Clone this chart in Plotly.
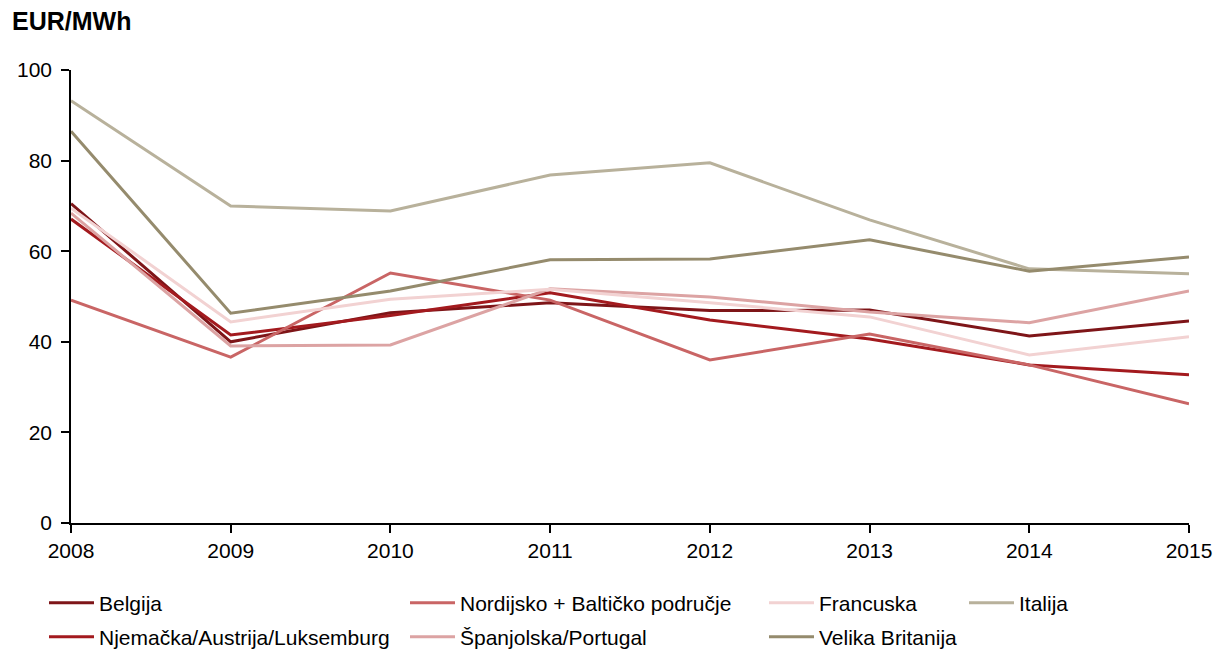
import plotly.graph_objects as go

years = [2008, 2009, 2010, 2011, 2012, 2013, 2014, 2015]

belgija = [70.5, 40.0, 46.4, 48.6, 46.9, 47.0, 41.3, 44.6]
njemacka = [67.1, 41.5, 45.8, 50.8, 44.8, 40.6, 34.9, 32.7]
nordijsko = [49.2, 36.6, 55.2, 49.2, 36.0, 41.7, 34.9, 26.3]
spanjolska = [68.4, 39.1, 39.3, 51.7, 49.9, 46.6, 44.2, 51.2]
francuska = [69.5, 44.4, 49.4, 51.6, 48.6, 45.5, 37.1, 41.1]
italija = [93.2, 70.0, 68.9, 76.8, 79.5, 66.9, 56.1, 55.0]
velika_britanija = [86.5, 46.3, 51.2, 58.1, 58.3, 62.5, 55.6, 58.7]

series = [
    ("Belgija", belgija, "#7e1518"),
    ("Njemačka/Austrija/Luksemburg", njemacka, "#a31a1e"),
    ("Nordijsko + Baltičko područje", nordijsko, "#c96565"),
    ("Španjolska/Portugal", spanjolska, "#dca3a3"),
    ("Francuska", francuska, "#f2d2d2"),
    ("Italija", italija, "#b8b19b"),
    ("Velika Britanija", velika_britanija, "#958b6d"),
]

# legend slot per series: (legend id, symbol left px, row centre px)
legend_slots = {
    "Belgija": ("legend", 50, 603),
    "Njemačka/Austrija/Luksemburg": ("legend2", 50, 637),
    "Nordijsko + Baltičko područje": ("legend3", 411, 603),
    "Španjolska/Portugal": ("legend4", 411, 637),
    "Francuska": ("legend5", 770, 603),
    "Velika Britanija": ("legend6", 770, 637),
    "Italija": ("legend7", 970, 603),
}

W, H = 1215, 650
L, T, R, B = 71, 70, 1215 - 1189, 650 - 523
pw, ph = W - L - R, H - T - B

font = "Liberation Sans, Arial, sans-serif"

fig = go.Figure()
for name, vals, color in series:
    fig.add_trace(
        go.Scatter(
            x=years,
            y=vals,
            name=name,
            mode="lines",
            line=dict(color=color, width=3),
            legend=legend_slots[name][0],
        )
    )

legends = {}
for name, (lid, px, py) in legend_slots.items():
    legends[lid] = dict(
        x=(px - 6 - L) / pw,
        y=(H - B - py) / ph,
        xanchor="left",
        yanchor="middle",
        itemwidth=45,
        bgcolor="rgba(0,0,0,0)",
        borderwidth=0,
        font=dict(family=font, size=21, color="#000"),
    )

fig.update_layout(
    width=W,
    height=H,
    # legends sit below the plot; keep them from growing the bottom margin
    margin=dict(l=L, r=R, t=T, b=B, autoexpand=False),
    plot_bgcolor="white",
    paper_bgcolor="white",
    font=dict(family=font, size=21, color="#000"),
    showlegend=True,
    **legends,
)
fig.update_xaxes(
    range=[2008, 2015],
    tickvals=years,
    showgrid=False,
    zeroline=False,
    showline=True,
    linecolor="#000",
    linewidth=1.5,
    ticks="outside",
    ticklen=8,
    tickwidth=1.5,
    tickcolor="#000",
    ticklabeloverflow="allow",
)
fig.update_yaxes(
    range=[0, 100],
    tickvals=[0, 20, 40, 60, 80, 100],
    showgrid=False,
    zeroline=False,
    showline=True,
    linecolor="#000",
    linewidth=1.5,
    ticks="outside",
    ticklen=8,
    tickwidth=1.5,
    tickcolor="#000",
    ticklabelstandoff=5,
)
fig.add_annotation(
    text="<b>EUR/MWh</b>",
    xref="paper",
    yref="paper",
    x=(10 - L) / pw,
    y=(H - B - 21) / ph,
    xanchor="left",
    yanchor="middle",
    showarrow=False,
    font=dict(family=font, size=25, color="#000"),
)

# drop the page's default 8px body margin so the figure fills the window
fig.write_html(
    "out.html",
    config={"displayModeBar": False},
    post_script="document.body.style.margin = '0';",
)
